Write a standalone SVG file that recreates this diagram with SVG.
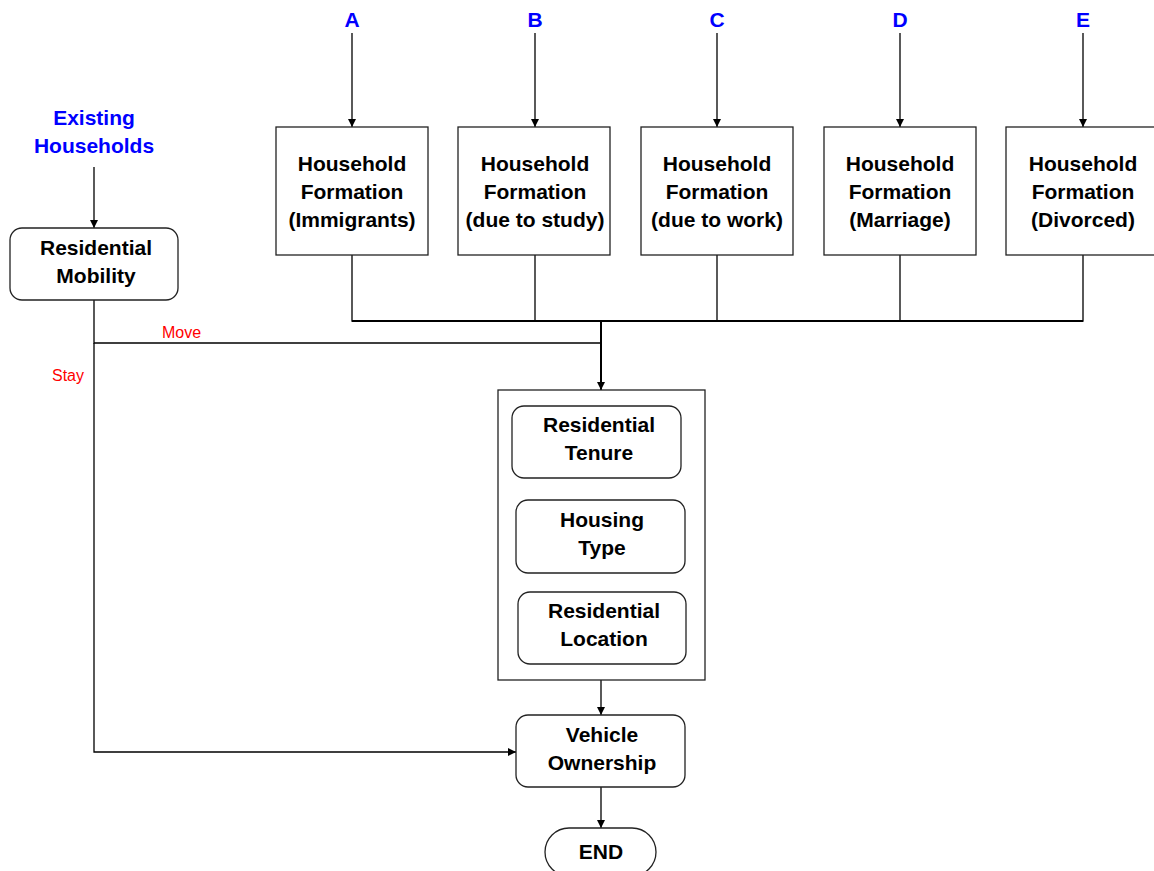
<svg xmlns="http://www.w3.org/2000/svg" width="1154" height="871" viewBox="0 0 1154 871">
  <defs>
    <marker id="arrow" viewBox="0 0 10 10" refX="10" refY="5" markerWidth="8" markerHeight="8" markerUnits="userSpaceOnUse" orient="auto">
      <path d="M0,0 L10,5 L0,10 z" fill="#000"/>
    </marker>
    <style>
      .box { fill: #fff; stroke: #222; stroke-width: 1.3; }
      .lbl { font-family: "Liberation Sans", Arial, sans-serif; font-size: 21px; font-weight: bold; fill: #000; text-anchor: middle; }
      .src { font-family: "Liberation Sans", Arial, sans-serif; font-size: 21px; font-weight: bold; fill: #0000ff; text-anchor: middle; }
      .cond { font-family: "Liberation Sans", Arial, sans-serif; font-size: 16px; fill: #ff0000; }
      .line { fill: none; stroke: #000; stroke-width: 1.3; }
      .arr { fill: none; stroke: #000; stroke-width: 1.3; marker-end: url(#arrow); }
    </style>
  </defs>
  <rect width="1154" height="871" fill="#fff"/>

  <!-- connectors -->
  <g id="connectors">
    <line class="arr" x1="94" y1="167" x2="94" y2="228"/>
    <line class="arr" x1="352" y1="33" x2="352" y2="127"/>
    <line class="arr" x1="535" y1="33" x2="535" y2="127"/>
    <line class="arr" x1="717" y1="33" x2="717" y2="127"/>
    <line class="arr" x1="900" y1="33" x2="900" y2="127"/>
    <line class="arr" x1="1083" y1="33" x2="1083" y2="127"/>
    <!-- formation collector bus -->
    <polyline class="line" points="352,255 352,321 1083,321 1083,255"/>
    <line class="line" x1="535" y1="255" x2="535" y2="321"/>
    <line class="line" x1="717" y1="255" x2="717" y2="321"/>
    <line class="line" x1="900" y1="255" x2="900" y2="321"/>
    <line class="line" x1="352" y1="321" x2="1083" y2="321" style="stroke-width:2"/>
    <!-- move branch -->
    <polyline class="line" points="94,300 94,343 601,343"/>
    <line class="arr" x1="601" y1="321" x2="601" y2="390" style="stroke-width:2"/>
    <!-- stay branch -->
    <polyline class="arr" points="94,343 94,752 516,752"/>
    <line class="arr" x1="601" y1="680" x2="601" y2="715"/>
    <line class="arr" x1="601" y1="787" x2="601" y2="828"/>
    <text class="cond" x="162" y="338">Move</text>
    <text class="cond" x="52" y="381">Stay</text>
  </g>

  <g id="existing-households">
    <text class="src" x="94" y="125">Existing</text>
    <text class="src" x="94" y="153">Households</text>
  </g>

  <g id="residential-mobility">
    <rect class="box" x="10" y="228" width="168" height="72" rx="12"/>
    <text class="lbl" x="96" y="255">Residential</text>
    <text class="lbl" x="96" y="283">Mobility</text>
  </g>

  <g id="source-a"><text class="src" x="352" y="27">A</text></g>
  <g id="source-b"><text class="src" x="535" y="27">B</text></g>
  <g id="source-c"><text class="src" x="717" y="27">C</text></g>
  <g id="source-d"><text class="src" x="900" y="27">D</text></g>
  <g id="source-e"><text class="src" x="1083" y="27">E</text></g>

  <g id="hf-immigrants">
    <rect class="box" x="276" y="127" width="152" height="128"/>
    <text class="lbl" x="352" y="171">Household</text>
    <text class="lbl" x="352" y="199">Formation</text>
    <text class="lbl" x="352" y="227">(Immigrants)</text>
  </g>
  <g id="hf-study">
    <rect class="box" x="458" y="127" width="152" height="128"/>
    <text class="lbl" x="535" y="171">Household</text>
    <text class="lbl" x="535" y="199">Formation</text>
    <text class="lbl" x="535" y="227">(due to study)</text>
  </g>
  <g id="hf-work">
    <rect class="box" x="641" y="127" width="152" height="128"/>
    <text class="lbl" x="717" y="171">Household</text>
    <text class="lbl" x="717" y="199">Formation</text>
    <text class="lbl" x="717" y="227">(due to work)</text>
  </g>
  <g id="hf-marriage">
    <rect class="box" x="824" y="127" width="152" height="128"/>
    <text class="lbl" x="900" y="171">Household</text>
    <text class="lbl" x="900" y="199">Formation</text>
    <text class="lbl" x="900" y="227">(Marriage)</text>
  </g>
  <g id="hf-divorced">
    <rect class="box" x="1006" y="127" width="152" height="128"/>
    <text class="lbl" x="1083" y="171">Household</text>
    <text class="lbl" x="1083" y="199">Formation</text>
    <text class="lbl" x="1083" y="227">(Divorced)</text>
  </g>

  <g id="housing-choices">
    <rect class="box" x="498" y="390" width="207" height="290"/>
    <g id="residential-tenure">
      <rect class="box" x="512" y="406" width="169" height="72" rx="12"/>
      <text class="lbl" x="599" y="432">Residential</text>
      <text class="lbl" x="599" y="460">Tenure</text>
    </g>
    <g id="housing-type">
      <rect class="box" x="516" y="500" width="169" height="73" rx="12"/>
      <text class="lbl" x="602" y="527">Housing</text>
      <text class="lbl" x="602" y="555">Type</text>
    </g>
    <g id="residential-location">
      <rect class="box" x="518" y="592" width="168" height="72" rx="12"/>
      <text class="lbl" x="604" y="618">Residential</text>
      <text class="lbl" x="604" y="646">Location</text>
    </g>
  </g>

  <g id="vehicle-ownership">
    <rect class="box" x="516" y="715" width="169" height="72" rx="12"/>
    <text class="lbl" x="602" y="742">Vehicle</text>
    <text class="lbl" x="602" y="770">Ownership</text>
  </g>

  <g id="end">
    <rect class="box" x="545" y="828" width="111" height="48" rx="24"/>
    <text class="lbl" x="601" y="859">END</text>
  </g>
</svg>
